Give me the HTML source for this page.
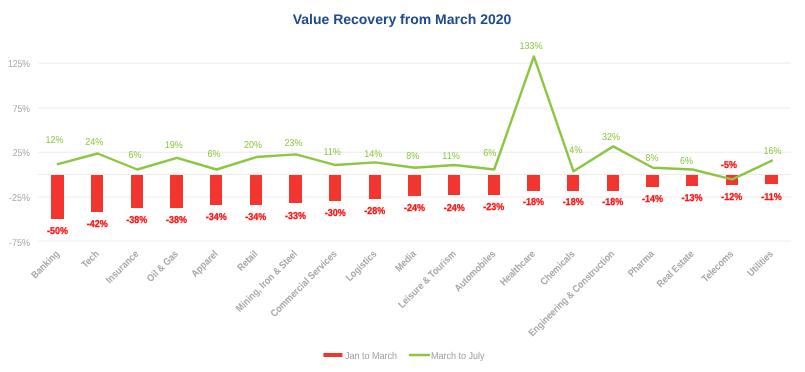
<!DOCTYPE html><html><head><meta charset="utf-8"><style>html,body{margin:0;padding:0;background:#fff;}svg{display:block;will-change:transform;}text{font-family:"Liberation Sans",sans-serif;text-rendering:geometricPrecision;}</style></head><body>
<svg width="805" height="372" viewBox="0 0 805 372">
<text x="402" y="24" text-anchor="middle" font-size="14" font-weight="bold" fill="#1f4a8e">Value Recovery from March 2020</text>
<rect x="38" y="62.60" width="753" height="1" fill="#ebebeb"/>
<rect x="38" y="107.60" width="753" height="1" fill="#ebebeb"/>
<rect x="38" y="151.67" width="753" height="1" fill="#ebebeb"/>
<rect x="38" y="173.94" width="753" height="1" fill="#ebebeb"/>
<rect x="38" y="196.60" width="753" height="1" fill="#ebebeb"/>
<rect x="38" y="240.60" width="753" height="1" fill="#ebebeb"/>
<text transform="translate(30.00 67.10) scale(0.86 1)" text-anchor="end" font-size="10" fill="#a6a6a6">125%</text>
<text transform="translate(30.00 111.60) scale(0.86 1)" text-anchor="end" font-size="10" fill="#a6a6a6">75%</text>
<text transform="translate(30.00 156.10) scale(0.86 1)" text-anchor="end" font-size="10" fill="#a6a6a6">25%</text>
<text transform="translate(30.00 200.60) scale(0.9 1)" text-anchor="end" font-size="10" fill="#a6a6a6">-25%</text>
<text transform="translate(30.00 245.60) scale(0.9 1)" text-anchor="end" font-size="10" fill="#a6a6a6">-75%</text>
<rect x="51" y="175" width="13" height="44" fill="#f2352f"/>
<rect x="91" y="175" width="12" height="37" fill="#f2352f"/>
<rect x="131" y="175" width="12" height="33" fill="#f2352f"/>
<rect x="170" y="175" width="13" height="33" fill="#f2352f"/>
<rect x="210" y="175" width="12" height="30" fill="#f2352f"/>
<rect x="250" y="175" width="12" height="30" fill="#f2352f"/>
<rect x="289" y="175" width="13" height="28" fill="#f2352f"/>
<rect x="329" y="175" width="12" height="26" fill="#f2352f"/>
<rect x="369" y="175" width="12" height="24" fill="#f2352f"/>
<rect x="408" y="175" width="13" height="21" fill="#f2352f"/>
<rect x="448" y="175" width="12" height="20" fill="#f2352f"/>
<rect x="488" y="175" width="12" height="20" fill="#f2352f"/>
<rect x="527" y="175" width="13" height="16" fill="#f2352f"/>
<rect x="567" y="175" width="12" height="16" fill="#f2352f"/>
<rect x="607" y="175" width="12" height="16" fill="#f2352f"/>
<rect x="646" y="175" width="13" height="12" fill="#f2352f"/>
<rect x="686" y="175" width="12" height="11" fill="#f2352f"/>
<rect x="726" y="175" width="12" height="10" fill="#f2352f"/>
<rect x="765" y="175" width="13" height="9" fill="#f2352f"/>
<polyline points="57.95,164.17 97.61,153.49 137.27,169.51 176.93,157.94 216.59,169.51 256.25,157.05 295.91,154.38 335.57,165.06 375.23,162.39 414.89,167.73 454.55,165.06 494.21,169.51 533.87,56.48 573.53,171.29 613.19,146.37 652.85,167.73 692.51,169.51 732.17,179.30 771.83,160.61" fill="none" stroke="#8dc641" stroke-width="2.4" stroke-linejoin="round" stroke-linecap="round"/>
<text transform="translate(57.55 233.95) scale(0.9 1)" text-anchor="middle" font-size="10" font-weight="bold" stroke="#fa1212" stroke-width="0.3" fill="#fa1212">-50%</text>
<text transform="translate(97.21 226.83) scale(0.9 1)" text-anchor="middle" font-size="10" font-weight="bold" stroke="#fa1212" stroke-width="0.3" fill="#fa1212">-42%</text>
<text transform="translate(136.87 223.27) scale(0.9 1)" text-anchor="middle" font-size="10" font-weight="bold" stroke="#fa1212" stroke-width="0.3" fill="#fa1212">-38%</text>
<text transform="translate(176.53 223.27) scale(0.9 1)" text-anchor="middle" font-size="10" font-weight="bold" stroke="#fa1212" stroke-width="0.3" fill="#fa1212">-38%</text>
<text transform="translate(216.19 219.71) scale(0.9 1)" text-anchor="middle" font-size="10" font-weight="bold" stroke="#fa1212" stroke-width="0.3" fill="#fa1212">-34%</text>
<text transform="translate(255.85 219.71) scale(0.9 1)" text-anchor="middle" font-size="10" font-weight="bold" stroke="#fa1212" stroke-width="0.3" fill="#fa1212">-34%</text>
<text transform="translate(295.51 218.82) scale(0.9 1)" text-anchor="middle" font-size="10" font-weight="bold" stroke="#fa1212" stroke-width="0.3" fill="#fa1212">-33%</text>
<text transform="translate(335.17 216.15) scale(0.9 1)" text-anchor="middle" font-size="10" font-weight="bold" stroke="#fa1212" stroke-width="0.3" fill="#fa1212">-30%</text>
<text transform="translate(374.83 214.37) scale(0.9 1)" text-anchor="middle" font-size="10" font-weight="bold" stroke="#fa1212" stroke-width="0.3" fill="#fa1212">-28%</text>
<text transform="translate(414.49 210.81) scale(0.9 1)" text-anchor="middle" font-size="10" font-weight="bold" stroke="#fa1212" stroke-width="0.3" fill="#fa1212">-24%</text>
<text transform="translate(454.15 210.81) scale(0.9 1)" text-anchor="middle" font-size="10" font-weight="bold" stroke="#fa1212" stroke-width="0.3" fill="#fa1212">-24%</text>
<text transform="translate(493.81 209.92) scale(0.9 1)" text-anchor="middle" font-size="10" font-weight="bold" stroke="#fa1212" stroke-width="0.3" fill="#fa1212">-23%</text>
<text transform="translate(533.47 205.47) scale(0.9 1)" text-anchor="middle" font-size="10" font-weight="bold" stroke="#fa1212" stroke-width="0.3" fill="#fa1212">-18%</text>
<text transform="translate(573.13 205.47) scale(0.9 1)" text-anchor="middle" font-size="10" font-weight="bold" stroke="#fa1212" stroke-width="0.3" fill="#fa1212">-18%</text>
<text transform="translate(612.79 205.47) scale(0.9 1)" text-anchor="middle" font-size="10" font-weight="bold" stroke="#fa1212" stroke-width="0.3" fill="#fa1212">-18%</text>
<text transform="translate(652.45 201.91) scale(0.9 1)" text-anchor="middle" font-size="10" font-weight="bold" stroke="#fa1212" stroke-width="0.3" fill="#fa1212">-14%</text>
<text transform="translate(692.11 201.02) scale(0.9 1)" text-anchor="middle" font-size="10" font-weight="bold" stroke="#fa1212" stroke-width="0.3" fill="#fa1212">-13%</text>
<text transform="translate(731.77 200.13) scale(0.9 1)" text-anchor="middle" font-size="10" font-weight="bold" stroke="#fa1212" stroke-width="0.3" fill="#fa1212">-12%</text>
<text transform="translate(771.43 200.13) scale(0.9 1)" text-anchor="middle" font-size="10" font-weight="bold" stroke="#fa1212" stroke-width="0.3" fill="#fa1212">-11%</text>
<text transform="translate(54.50 143.10) scale(0.9 1)" text-anchor="middle" font-size="10" fill="#8cc63f">12%</text>
<text transform="translate(94.20 145.20) scale(0.9 1)" text-anchor="middle" font-size="10" fill="#8cc63f">24%</text>
<text transform="translate(135.00 158.00) scale(0.9 1)" text-anchor="middle" font-size="10" fill="#8cc63f">6%</text>
<text transform="translate(173.70 147.90) scale(0.9 1)" text-anchor="middle" font-size="10" fill="#8cc63f">19%</text>
<text transform="translate(214.00 156.80) scale(0.9 1)" text-anchor="middle" font-size="10" fill="#8cc63f">6%</text>
<text transform="translate(252.90 147.90) scale(0.9 1)" text-anchor="middle" font-size="10" fill="#8cc63f">20%</text>
<text transform="translate(293.60 146.00) scale(0.9 1)" text-anchor="middle" font-size="10" fill="#8cc63f">23%</text>
<text transform="translate(332.10 155.00) scale(0.9 1)" text-anchor="middle" font-size="10" fill="#8cc63f">11%</text>
<text transform="translate(373.30 157.10) scale(0.9 1)" text-anchor="middle" font-size="10" fill="#8cc63f">14%</text>
<text transform="translate(412.80 158.80) scale(0.9 1)" text-anchor="middle" font-size="10" fill="#8cc63f">8%</text>
<text transform="translate(451.00 159.10) scale(0.9 1)" text-anchor="middle" font-size="10" fill="#8cc63f">11%</text>
<text transform="translate(489.80 156.10) scale(0.9 1)" text-anchor="middle" font-size="10" fill="#8cc63f">6%</text>
<text transform="translate(531.00 49.00) scale(0.9 1)" text-anchor="middle" font-size="10" fill="#8cc63f">133%</text>
<text transform="translate(575.80 153.10) scale(0.9 1)" text-anchor="middle" font-size="10" fill="#8cc63f">4%</text>
<text transform="translate(610.90 139.90) scale(0.9 1)" text-anchor="middle" font-size="10" fill="#8cc63f">32%</text>
<text transform="translate(652.00 160.80) scale(0.9 1)" text-anchor="middle" font-size="10" fill="#8cc63f">8%</text>
<text transform="translate(686.50 164.20) scale(0.9 1)" text-anchor="middle" font-size="10" fill="#8cc63f">6%</text>
<text transform="translate(728.90 168.20) scale(0.9 1)" text-anchor="middle" font-size="10" font-weight="bold" stroke="#fa1212" stroke-width="0.3" fill="#fa1212">-5%</text>
<text transform="translate(772.40 154.00) scale(0.9 1)" text-anchor="middle" font-size="10" fill="#8cc63f">16%</text>
<text transform="translate(59.85 254.50) rotate(-45) scale(0.88 1)" text-anchor="end" font-size="10" font-weight="bold" fill="#a8a8a8">Banking</text>
<text transform="translate(99.51 254.50) rotate(-45) scale(0.88 1)" text-anchor="end" font-size="10" font-weight="bold" fill="#a8a8a8">Tech</text>
<text transform="translate(139.17 254.50) rotate(-45) scale(0.88 1)" text-anchor="end" font-size="10" font-weight="bold" fill="#a8a8a8">Insurance</text>
<text transform="translate(178.83 254.50) rotate(-45) scale(0.88 1)" text-anchor="end" font-size="10" font-weight="bold" fill="#a8a8a8">Oil &amp; Gas</text>
<text transform="translate(218.49 254.50) rotate(-45) scale(0.88 1)" text-anchor="end" font-size="10" font-weight="bold" fill="#a8a8a8">Apparel</text>
<text transform="translate(258.15 254.50) rotate(-45) scale(0.88 1)" text-anchor="end" font-size="10" font-weight="bold" fill="#a8a8a8">Retail</text>
<text transform="translate(297.81 254.50) rotate(-45) scale(0.88 1)" text-anchor="end" font-size="10" font-weight="bold" fill="#a8a8a8">Mining, Iron &amp; Steel</text>
<text transform="translate(337.47 254.50) rotate(-45) scale(0.88 1)" text-anchor="end" font-size="10" font-weight="bold" fill="#a8a8a8">Commercial Services</text>
<text transform="translate(377.13 254.50) rotate(-45) scale(0.88 1)" text-anchor="end" font-size="10" font-weight="bold" fill="#a8a8a8">Logistics</text>
<text transform="translate(416.79 254.50) rotate(-45) scale(0.88 1)" text-anchor="end" font-size="10" font-weight="bold" fill="#a8a8a8">Media</text>
<text transform="translate(456.45 254.50) rotate(-45) scale(0.88 1)" text-anchor="end" font-size="10" font-weight="bold" fill="#a8a8a8">Leisure &amp; Tourism</text>
<text transform="translate(496.11 254.50) rotate(-45) scale(0.88 1)" text-anchor="end" font-size="10" font-weight="bold" fill="#a8a8a8">Automobiles</text>
<text transform="translate(535.77 254.50) rotate(-45) scale(0.88 1)" text-anchor="end" font-size="10" font-weight="bold" fill="#a8a8a8">Healthcare</text>
<text transform="translate(575.43 254.50) rotate(-45) scale(0.88 1)" text-anchor="end" font-size="10" font-weight="bold" fill="#a8a8a8">Chemicals</text>
<text transform="translate(615.09 254.50) rotate(-45) scale(0.88 1)" text-anchor="end" font-size="10" font-weight="bold" fill="#a8a8a8">Engineering &amp; Construction</text>
<text transform="translate(654.75 254.50) rotate(-45) scale(0.88 1)" text-anchor="end" font-size="10" font-weight="bold" fill="#a8a8a8">Pharma</text>
<text transform="translate(694.41 254.50) rotate(-45) scale(0.88 1)" text-anchor="end" font-size="10" font-weight="bold" fill="#a8a8a8">Real Estate</text>
<text transform="translate(734.07 254.50) rotate(-45) scale(0.88 1)" text-anchor="end" font-size="10" font-weight="bold" fill="#a8a8a8">Telecoms</text>
<text transform="translate(773.73 254.50) rotate(-45) scale(0.88 1)" text-anchor="end" font-size="10" font-weight="bold" fill="#a8a8a8">Utilities</text>
<rect x="323.4" y="353" width="19" height="4" fill="#f2352f"/>
<text transform="translate(345.00 359.00) scale(0.9 1)" text-anchor="start" font-size="10" fill="#9c9c9c">Jan to March</text>
<line x1="410" y1="355" x2="429" y2="355" stroke="#8cc63f" stroke-width="2.5" stroke-linecap="round"/>
<text transform="translate(431.00 359.00) scale(0.9 1)" text-anchor="start" font-size="10" fill="#9c9c9c">March to July</text>
</svg></body></html>
